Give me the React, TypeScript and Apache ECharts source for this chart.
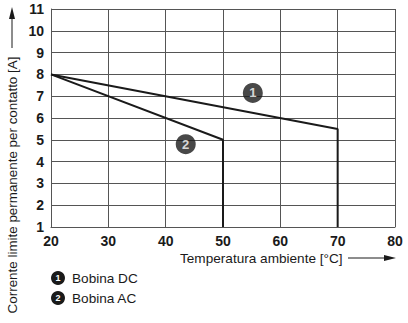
import React, { useEffect, useRef } from "react";
import * as echarts from "echarts";

const xTicks = [20, 30, 40, 50, 60, 70, 80];
const yTicks = [1, 2, 3, 4, 5, 6, 7, 8, 9, 10, 11];
const dcCurve: [number, number][] = [[20, 8], [70, 5.5], [70, 1]];
const acCurve: [number, number][] = [[20, 8], [50, 5], [50, 1]];
const curveMarkers = [
  { name: "1", value: [55.2, 7.15] },
  { name: "2", value: [43.5, 4.8] },
];
const legendItems = [
  { num: "1", label: "Bobina DC" },
  { num: "2", label: "Bobina AC" },
];
const xAxisName = "Temperatura ambiente [°C]";
const yAxisName = "Corrente limite permanente per contatto [A]";

const FONT = "'Liberation Sans', Arial, sans-serif";

export default function App() {
  const ref = useRef<HTMLDivElement>(null);
  useEffect(() => {
    if (!ref.current) return;
    const chart = echarts.init(ref.current, undefined, { renderer: "svg" });
    const legendGraphics: any[] = [];
    legendItems.forEach((it, i) => {
      const cy = 278 + i * 20;
      legendGraphics.push({
        type: "circle",
        shape: { cx: 58, cy, r: 7 },
        style: { fill: "#1a1a1a" },
      });
      legendGraphics.push({
        type: "text",
        x: 58,
        y: cy,
        style: { text: it.num, fill: "#fff", font: `bold 9px ${FONT}`, align: "center", verticalAlign: "middle" },
      });
      legendGraphics.push({
        type: "text",
        x: 72,
        y: cy,
        style: { text: it.label, fill: "#1a1a1a", font: `13.6px ${FONT}`, align: "left", verticalAlign: "middle" },
      });
    });
    chart.setOption({
      animation: false,
      backgroundColor: "#fff",
      grid: { left: 51, top: 9, right: 13, bottom: 96, containLabel: false },
      xAxis: {
        type: "value",
        min: 20,
        max: 80,
        interval: 10,
        axisLine: { show: true, lineStyle: { color: "#555", width: 1 } },
        axisTick: { show: false },
        splitLine: { show: true, lineStyle: { color: "#555", width: 1 } },
        axisLabel: {
          color: "#1a1a1a",
          fontWeight: "bold",
          fontSize: 14,
          fontFamily: FONT,
          margin: 7,
          formatter: (v: number) => (xTicks.includes(v) ? String(v) : ""),
        },
      },
      yAxis: {
        type: "value",
        min: 1,
        max: 11,
        interval: 1,
        axisLine: { show: true, lineStyle: { color: "#555", width: 1 } },
        axisTick: { show: false },
        splitLine: { show: true, lineStyle: { color: "#555", width: 1 } },
        axisLabel: {
          color: "#1a1a1a",
          fontWeight: "bold",
          fontSize: 14,
          fontFamily: FONT,
          margin: 7,
          formatter: (v: number) => (yTicks.includes(v) ? String(v) : ""),
        },
      },
      series: [
        {
          type: "line",
          name: "Bobina DC",
          data: dcCurve,
          symbol: "none",
          lineStyle: { color: "#1a1a1a", width: 2 },
        },
        {
          type: "line",
          name: "Bobina AC",
          data: acCurve,
          symbol: "none",
          lineStyle: { color: "#1a1a1a", width: 2 },
        },
        {
          type: "scatter",
          data: curveMarkers,
          symbol: "circle",
          symbolSize: 20,
          itemStyle: { color: "#1a1a1a" },
          label: {
            show: true,
            position: "inside",
            formatter: (p: any) => p.name,
            color: "#fff",
            fontWeight: "bold",
            fontSize: 13,
            fontFamily: FONT,
          },
          z: 5,
        },
      ],
      graphic: [
        {
          type: "text",
          x: 180,
          y: 258,
          style: { text: xAxisName, fill: "#1a1a1a", font: `13.6px ${FONT}`, align: "left", verticalAlign: "middle" },
        },
        { type: "line", shape: { x1: 348, y1: 258, x2: 384, y2: 258 }, style: { stroke: "#1a1a1a", lineWidth: 1 } },
        { type: "polygon", shape: { points: [[396, 258], [384, 255], [384, 261]] }, style: { fill: "#1a1a1a" } },
        {
          type: "text",
          x: 12,
          y: 185,
          rotation: Math.PI / 2,
          style: { text: yAxisName, fill: "#1a1a1a", font: `13.4px ${FONT}`, align: "center", verticalAlign: "middle" },
        },
        { type: "line", shape: { x1: 12, y1: 48, x2: 12, y2: 19 }, style: { stroke: "#1a1a1a", lineWidth: 1 } },
        { type: "polygon", shape: { points: [[12, 7], [9, 19], [15, 19]] }, style: { fill: "#1a1a1a" } },
        ...legendGraphics,
      ],
    });
    return () => chart.dispose();
  }, []);
  return <div ref={ref} style={{ width: 408, height: 323, position: "absolute", left: 0, top: 0 }} />;
}
